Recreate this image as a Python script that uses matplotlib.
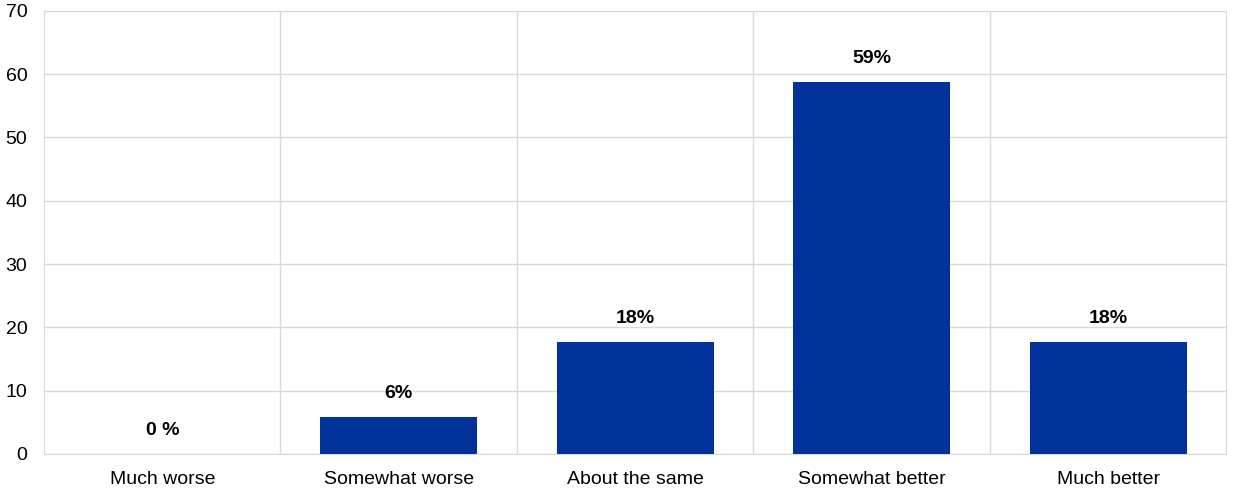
import matplotlib.pyplot as plt

plt.rcParams['font.family'] = ['Liberation Sans', 'DejaVu Sans']

# data: share of respondents (17 replies)
categories = ["Much worse", "Somewhat worse", "About the same", "Somewhat better", "Much better"]
values = [0.0, 5.88, 17.65, 58.82, 17.65]
labels = ["0 %", "6%", "18%", "59%", "18%"]

fig, ax = plt.subplots(figsize=(12.4, 4.94), dpi=100)
fig.subplots_adjust(left=0.0355, right=0.989, top=0.978, bottom=0.081)

x = range(len(categories))
bars = ax.bar(x, values, width=0.665, color='#003299', zorder=3)

for b, lab in zip(bars, labels):
    ax.annotate(lab, (b.get_x() + b.get_width() / 2, b.get_height()),
                xytext=(0, 17), textcoords='offset points',
                ha='center', va='center', fontsize=14, fontweight='bold')

ax.set_xlim(-0.5, len(categories) - 0.5)
ax.set_ylim(0, 70)
ax.set_yticks(range(0, 71, 10))
ax.set_xticks(list(x))
ax.set_xticklabels(categories)
ax.set_xticks([i + 0.5 for i in range(len(categories) - 1)], minor=True)

ax.grid(axis='y', color='#d9d9d9', linewidth=1, zorder=0)
ax.grid(axis='x', which='minor', color='#d9d9d9', linewidth=1, zorder=0)
ax.tick_params(axis='both', which='both', length=0, labelsize=14)
ax.tick_params(axis='y', pad=12)
ax.tick_params(axis='x', pad=12)
for s in ax.spines.values():
    s.set_color('#d9d9d9')

plt.savefig('out.png', dpi=100)
